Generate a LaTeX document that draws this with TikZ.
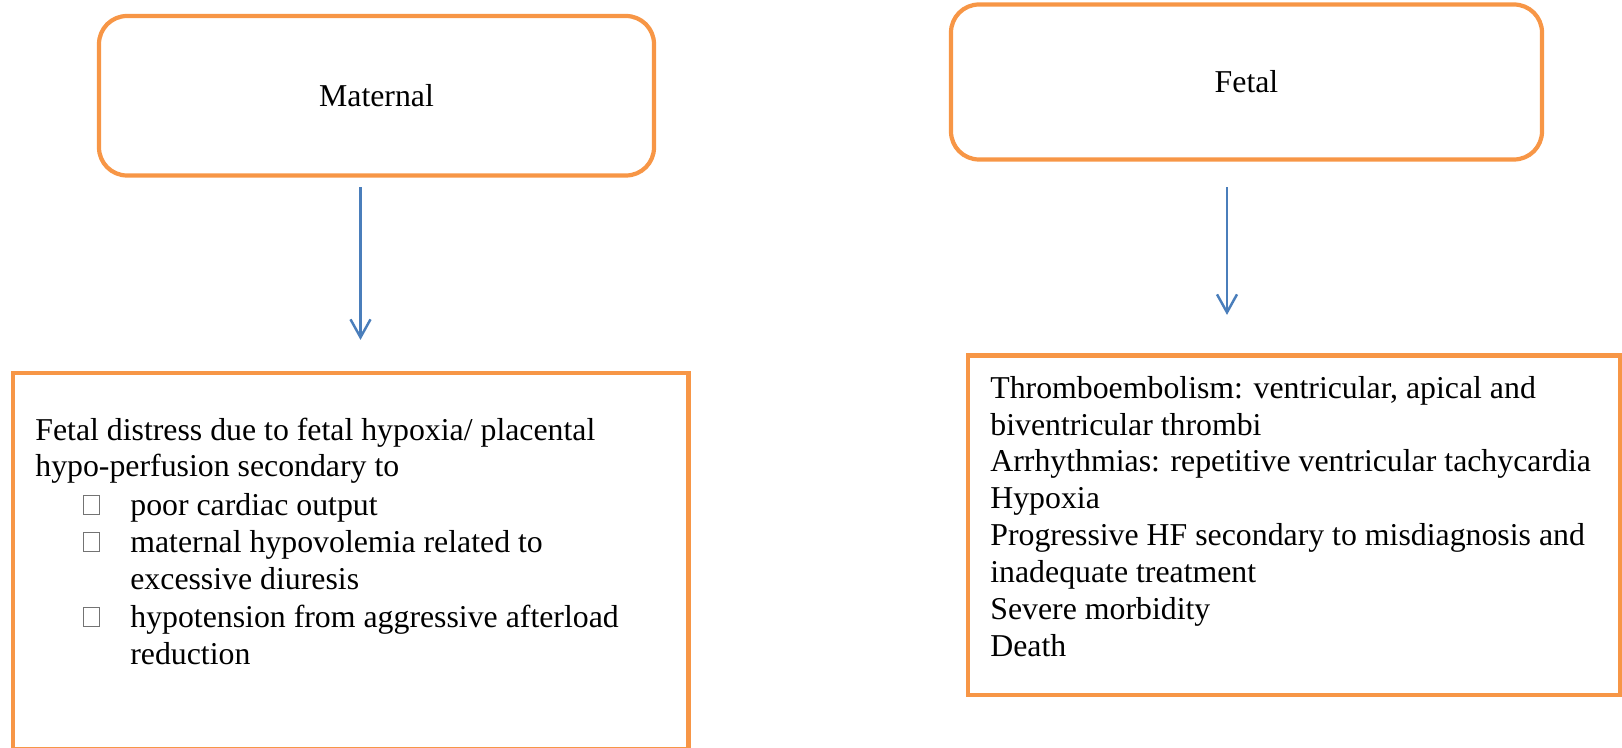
\documentclass[tikz,border=0pt]{standalone}
\usepackage{fontspec}
\setmainfont{Liberation Serif}
\usepackage{xcolor}
\usepackage{tikz}
\usetikzlibrary{calc,arrows.meta,positioning}

\definecolor{boxorange}{HTML}{F79646}
\definecolor{arrowblue}{HTML}{4A7EBB}

\begin{document}
\begin{tikzpicture}[
    >={Straight Barb[length=3.6mm,width=4mm]},
    font=\fontsize{18.1}{21}\selectfont,
    every node/.style={font=\fontsize{18.1}{21}\selectfont},
    headbox/.style={draw=boxorange,line width=2.4pt,rounded corners=5.6mm},
    listbox/.style={draw=boxorange,line width=2.4pt},
    flow/.style={->,draw=arrowblue,line width=1.4pt},
    bulletbox/.style={draw=black!55,line width=0.5pt,inner sep=0,
        minimum width=0.32cm,minimum height=0.38cm},
    bodytext/.style={inner sep=0,align=left,anchor=base west}
]
\useasboundingbox (0,0) rectangle (32.44,-14.96);

%------------------------------------------------
% Caixas
%------------------------------------------------
\node[headbox,minimum width=11.1cm,minimum height=3.19cm]
    (maternal) at (7.53,-1.915) {Maternal};
\node[headbox,minimum width=11.82cm,minimum height=3.1cm]
    (fetal) at (24.93,-1.64) {Fetal};

\node[listbox,minimum width=13.51cm,minimum height=7.53cm]
    (mbody) at (7.015,-11.225) {};
\node[listbox,minimum width=13.04cm,minimum height=6.79cm]
    (fbody) at (25.88,-10.505) {};

%------------------------------------------------
% Setas
%------------------------------------------------
\coordinate (mtail) at ($(maternal.south)+(-0.32,-0.19)$);
\coordinate (mhead) at ($(mbody.north)+(0.195,0.62)$);
\coordinate (ftail) at ($(fetal.south)+(-0.39,-0.51)$);
\coordinate (fhead) at ($(fbody.north)+(-1.34,0.77)$);

\draw[flow] (mtail) -- (mtail |- mhead);
\draw[flow] (ftail) -- (ftail |- fhead);

%------------------------------------------------
% Textos (base = ultima linha)
%------------------------------------------------
\node[bodytext] (mintro) at (0.70,-9.54)
    {Fetal distress due to fetal hypoxia/ placental\\
     hypo-perfusion secondary to};

\foreach \i/\by/\ty/\txt in {
1/-10.30/-10.30/{poor cardiac output},
2/-11.04/-11.78/{maternal hypovolemia related to\\excessive diuresis},
3/-12.54/-13.28/{hypotension from aggressive afterload\\reduction}}
{
    \node[bulletbox,anchor=south] (bul\i) at (1.83,\by) {};
    \node[bodytext] (item\i) at (2.60,\ty) {\txt};
}

\node[bodytext] (ftext) at (19.80,-13.13)
    {Thromboembolism: ventricular, apical and\\
     biventricular thrombi\\
     Arrhythmias: repetitive ventricular tachycardia\\
     Hypoxia\\
     Progressive HF secondary to misdiagnosis and\\
     inadequate treatment\\
     Severe morbidity\\
     Death};

\end{tikzpicture}
\end{document}
